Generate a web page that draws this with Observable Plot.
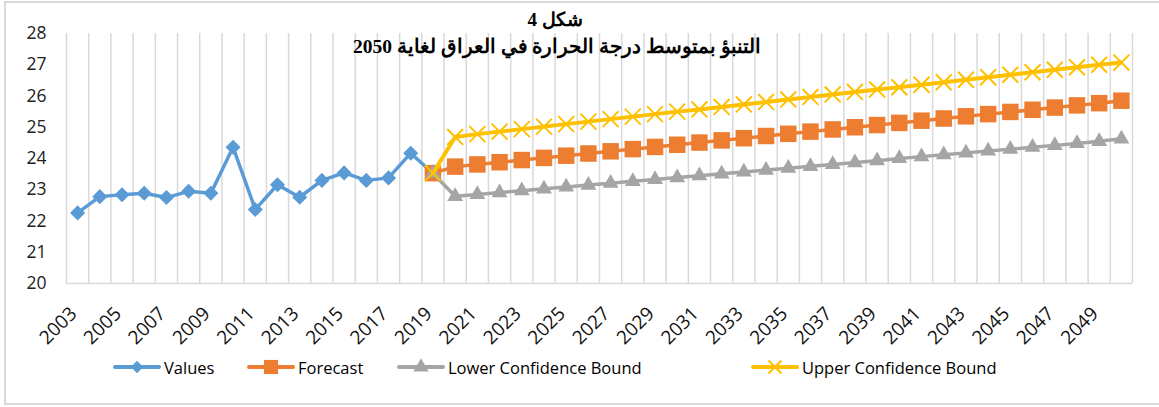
<!DOCTYPE html>
<html><head><meta charset="utf-8">
<script src="https://cdn.jsdelivr.net/npm/d3@7"></script>
<script src="https://cdn.jsdelivr.net/npm/@observablehq/plot@0.6"></script>
<style>
body{margin:0;background:#fff;}
#wrap{position:relative;width:1159px;height:407px;overflow:hidden;font-family:"Open Sans",sans-serif;background:#fff;}
#border{position:absolute;left:4px;top:1px;width:1175px;height:404px;border:2px solid #d9d9d9;box-sizing:border-box;}
#chart{position:absolute;left:0;top:0;}
.t{position:absolute;transform:translate(-50%,-50%);white-space:nowrap;font-family:"Liberation Serif","DejaVu Serif",serif;font-weight:bold;color:#000;}
#legend{position:absolute;left:0;top:355px;width:1159px;height:24px;}
.li{position:absolute;top:0;display:flex;align-items:center;font-size:16.5px;color:#000;}
.li svg{margin-right:3px;}
</style></head>
<body>
<div id="wrap">
  <div id="border"></div>
  <div id="chart"></div>
  <div class="t" id="t1" style="left:555px;top:19px;font-size:19px;">شكل 4</div>
  <div class="t" id="t2" style="left:557px;top:46px;font-size:19.5px;">التنبؤ بمتوسط درجة الحرارة في العراق لغاية 2050</div>
  <div id="legend"></div>
</div>
<script>
const obsYears = [2003,2004,2005,2006,2007,2008,2009,2010,2011,2012,2013,2014,2015,2016,2017,2018,2019];
const values   = [22.26,22.78,22.84,22.89,22.75,22.95,22.89,24.36,22.37,23.16,22.76,23.30,23.54,23.30,23.38,24.17,23.53];
const fcYears  = [2019,2020,2021,2022,2023,2024,2025,2026,2027,2028,2029,2030,2031,2032,2033,2034,2035,2036,2037,2038,2039,2040,2041,2042,2043,2044,2045,2046,2047,2048,2049,2050];
const forecast = [23.53,23.74,23.81,23.88,23.95,24.02,24.09,24.16,24.23,24.30,24.37,24.44,24.51,24.58,24.65,24.72,24.79,24.86,24.93,25.00,25.07,25.14,25.21,25.28,25.35,25.42,25.49,25.56,25.63,25.70,25.77,25.85];
const lower    = [23.53,22.79,22.85,22.91,22.97,23.03,23.09,23.15,23.21,23.27,23.33,23.39,23.45,23.51,23.57,23.63,23.69,23.75,23.81,23.87,23.93,24.00,24.06,24.12,24.18,24.24,24.30,24.36,24.42,24.48,24.55,24.63];
const upper    = [23.53,24.69,24.78,24.86,24.94,25.02,25.10,25.18,25.26,25.34,25.42,25.50,25.57,25.65,25.73,25.81,25.89,25.97,26.05,26.13,26.21,26.28,26.36,26.44,26.52,26.60,26.68,26.76,26.84,26.92,27.00,27.07];
const yTicks   = [20,21,22,23,24,25,26,27,28];
const xTicks   = [2003,2005,2007,2009,2011,2013,2015,2017,2019,2021,2023,2025,2027,2029,2031,2033,2035,2037,2039,2041,2043,2045,2047,2049];
const seriesNames = ["Values","Forecast","Lower Confidence Bound","Upper Confidence Bound"];
const colors = ["#5B9BD5","#ED7D31","#A5A5A5","#FFC000"];

const allYears = d3.range(obsYears[0], fcYears[fcYears.length-1] + 1);
const bounds = allYears.map(y => y - 0.5).concat([allYears[allYears.length-1] + 0.5]);
const obs = obsYears.map((y,i) => ({year:y, v:values[i]}));
const fc = fcYears.map((y,i) => ({year:y, f:forecast[i], lo:lower[i], up:upper[i]}));

const plot = Plot.plot({
  width: 1159, height: 350,
  marginLeft: 66, marginRight: 27, marginTop: 33, marginBottom: 67,
  style: {fontFamily: '"Open Sans", sans-serif', background: "transparent", overflow: "visible"},
  x: {domain: [bounds[0], bounds[bounds.length-1]], axis: null},
  y: {domain: [yTicks[0], yTicks[yTicks.length-1]]},
  marks: [
    Plot.ruleX(bounds, {y1: yTicks[0], y2: yTicks[yTicks.length-1], stroke: "#d9d9d9", strokeWidth: 1.5}),
    Plot.ruleY([yTicks[0]], {x1: bounds[0], x2: bounds[bounds.length-1], stroke: "#d9d9d9", strokeWidth: 1.5}),
    Plot.axisY({ticks: yTicks, tickSize: 0, tickPadding: 20, fontSize: 17.5, fill: "#222", label: null}),
    Plot.text(xTicks, {x: d => d, frameAnchor: "bottom", text: d => String(d), rotate: -45, textAnchor: "end", lineAnchor: "middle", dx: -4, dy: 27, fontSize: 19, fill: "#111", style: "letter-spacing:0.5px"}),
    Plot.line(obs, {x: "year", y: "v", stroke: colors[0], strokeWidth: 3.5}),
    Plot.dot(obs, {x: "year", y: "v", symbol: "diamond2", r: 6.8, fill: colors[0], stroke: "none"}),
    Plot.line(fc, {x: "year", y: "f", stroke: colors[1], strokeWidth: 3.5}),
    Plot.dot(fc, {x: "year", y: "f", symbol: "square", r: 9.3, fill: colors[1], stroke: "none"}),
    Plot.line(fc, {x: "year", y: "lo", stroke: colors[2], strokeWidth: 3.5}),
    Plot.dot(fc, {x: "year", y: "lo", symbol: "triangle", r: 5.9, fill: colors[2], stroke: "none"}),
    Plot.line(fc, {x: "year", y: "up", stroke: colors[3], strokeWidth: 4}),
    Plot.dot(fc, {x: "year", y: "up", symbol: "times", r: 7.3, stroke: colors[3], strokeWidth: 2, fill: "none"})
  ]
});
document.getElementById("chart").appendChild(plot);

// legend
const legendX = [113, 247, 397, 751];
const symPaths = [
  d3.symbol(d3.symbolDiamond2, 100)(),
  d3.symbol(d3.symbolSquare, 200)(),
  d3.symbol(d3.symbolTriangle, 100)(),
  d3.symbol(d3.symbolTimes, 110)()
];
const leg = document.getElementById("legend");
seriesNames.forEach((name, i) => {
  const div = document.createElement("div");
  div.className = "li";
  div.style.left = legendX[i] + "px";
  const isX = i === 3;
  div.innerHTML = `<svg width="48" height="24"><line x1="2" y1="12" x2="46" y2="12" stroke="${colors[i]}" stroke-width="4" stroke-linecap="round"/>` +
    `<path transform="translate(24,12)" d="${symPaths[i]}" fill="${isX ? "none" : colors[i]}" stroke="${isX ? colors[i] : "none"}" stroke-width="2"/></svg><span>${name}</span>`;
  leg.appendChild(div);
});
</script>
</body></html>
